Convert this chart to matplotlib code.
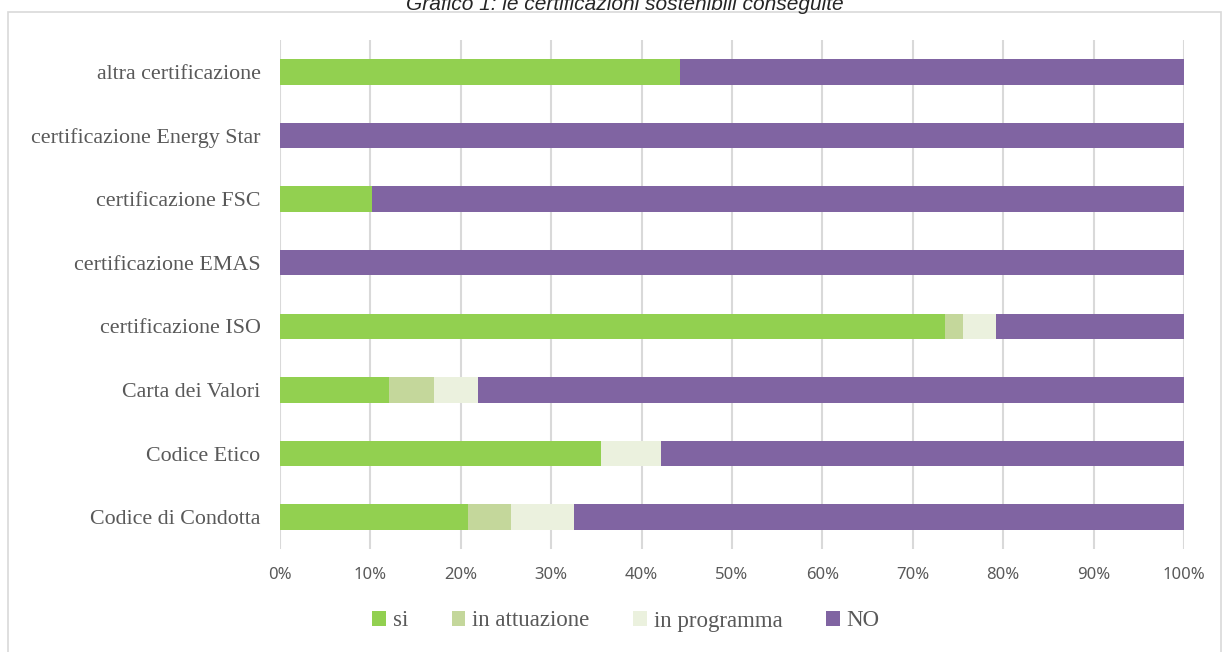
# stacked 100% bar chart - certificazioni sostenibili
import numpy as np
import matplotlib.pyplot as plt
from matplotlib.patches import Rectangle

# categories, bottom to top as drawn
categories = ["Codice di Condotta", "Codice Etico", "Carta dei Valori",
              "certificazione ISO", "certificazione EMAS", "certificazione FSC",
              "certificazione Energy Star", "altra certificazione"]

# percentages
si = [20.8, 35.5, 12.1, 73.6, 0.0, 10.2, 0.0, 44.2]
in_attuazione = [4.8, 0.0, 4.9, 1.9, 0.0, 0.0, 0.0, 0.0]
in_programma = [6.9, 6.7, 4.9, 3.7, 0.0, 0.0, 0.0, 0.0]
no = [67.5, 57.8, 78.1, 20.8, 100.0, 89.8, 100.0, 55.8]

series = [("si", si, "#92D050"),
          ("in attuazione", in_attuazione, "#C4D79B"),
          ("in programma", in_programma, "#EBF1DE"),
          ("NO", no, "#8064A2")]

xticks = np.arange(0, 101, 10)
xticklabels = [f"{t}%" for t in xticks]

text_col = "#595959"
serif = ["Liberation Serif", "DejaVu Serif"]

fig = plt.figure(figsize=(12.25, 6.52), dpi=100)
ax = fig.add_axes([280/1225, 1 - 549/652, (1184-280)/1225, (549-40)/652])

y = np.arange(len(categories))
left = np.zeros(len(categories))
handles = []
for name, vals, col in series:
    vals = np.array(vals)
    b = ax.barh(y, vals, left=left, height=0.4, color=col, label=name, zorder=3)
    left += vals
    handles.append(b)

ax.set_xlim(0, 100)
ax.set_ylim(-0.5, len(categories) - 0.5)
ax.set_xticks(xticks)
ax.set_xticklabels(xticklabels, fontfamily="Noto Sans", fontsize=12, color=text_col)
ax.set_yticks(y)
ax.set_yticklabels(categories, fontfamily=serif, fontsize=15.8, color=text_col)
ax.tick_params(axis="x", length=0, pad=13)
ax.tick_params(axis="y", length=0, pad=14)
ax.grid(axis="x", color="#D9D9D9", linewidth=1.5, zorder=0)
for s in ax.spines.values():
    s.set_visible(False)

leg = fig.legend(handles=handles, loc="center", bbox_to_anchor=(626/1225, 1 - 621/652),
                 ncol=4, frameon=False, handlelength=0.6, handleheight=0.6,
                 handletextpad=0.3, columnspacing=1.9,
                 prop={"family": serif, "size": 16.5})
for t in leg.get_texts():
    t.set_color(text_col)

# outer frame of the original document
fig.add_artist(Rectangle((8/1225, -0.05), (1221-8)/1225, 1.05 - 12/652,
                         transform=fig.transFigure, fill=False,
                         edgecolor="#D9D9D9", linewidth=1.2))

fig.text(625/1225, 1 - 5/652, "Grafico 1: le certificazioni sostenibili conseguite",
         ha="center", va="center", fontsize=15, style="italic",
         fontfamily="Liberation Sans", color="#262626")

fig.savefig("out.png", dpi=100)
